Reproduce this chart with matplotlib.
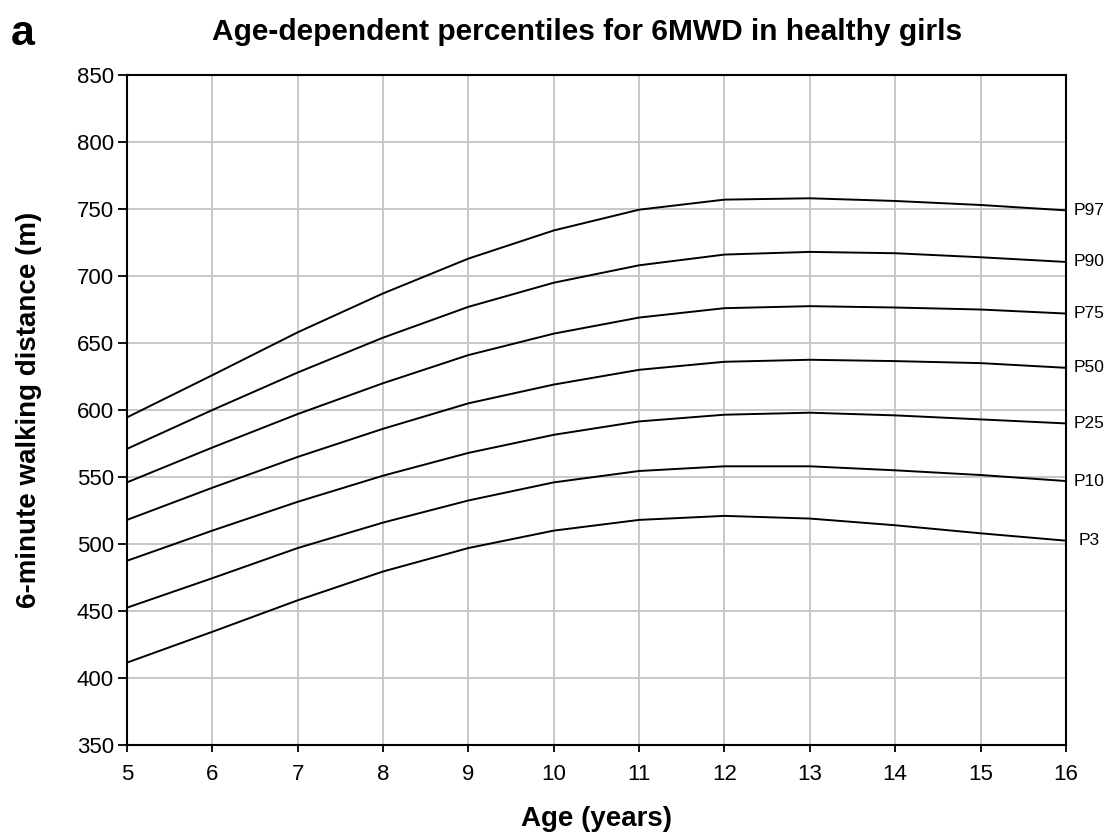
import numpy as np
import matplotlib.pyplot as plt

plt.rcParams['font.family'] = ['Liberation Sans', 'DejaVu Sans']

# age in years
ages = [5, 6, 7, 8, 9, 10, 11, 12, 13, 14, 15, 16]

# 6MWD percentiles (m)
p97 = [594.5, 626, 658, 687, 713, 734, 749.5, 757, 758, 756, 753, 749]
p90 = [571, 600, 628, 654, 677, 695, 708, 716, 718, 717, 714, 710.5]
p75 = [546, 572, 597, 620, 641, 657, 669, 676, 677.5, 676.5, 675, 672]
p50 = [518, 542, 565, 586, 605, 619, 630, 636, 637.5, 636.5, 635, 631.5]
p25 = [487.5, 510, 531.5, 551, 568, 581.5, 591.5, 596.5, 598, 596, 593, 590]
p10 = [452.5, 474.5, 497, 516, 532.5, 546, 554.5, 558, 558, 555, 551.5, 547]
p3 = [411.5, 434.5, 458, 479.5, 497, 510, 518, 521, 519, 514, 508, 502.5]

series = [('P97', p97), ('P90', p90), ('P75', p75), ('P50', p50),
          ('P25', p25), ('P10', p10), ('P3', p3)]

fig = plt.figure(figsize=(11.08, 8.39), dpi=100)
ax = fig.add_axes([0.1146, 0.112, 0.8474, 0.7986])

for name, vals in series:
    ax.plot(ages, vals, color='black', lw=1.4, zorder=3)
    ax.annotate(name, xy=(ages[-1], vals[-1]), xytext=(16.5, 0),
                textcoords='offset points', ha='center', va='center',
                fontsize=12.5, annotation_clip=False)

ax.set_xlim(5, 16)
ax.set_ylim(350, 850)
ax.set_xticks(range(5, 17))
ax.set_yticks(range(350, 851, 50))
ax.grid(True, color='#c8c8c8', lw=1.4, zorder=0)
ax.set_axisbelow(True)
for s in ax.spines.values():
    s.set_linewidth(1.5)
    s.set_color('black')
ax.tick_params(axis='x', direction='out', length=5, width=1.3, labelsize=16, pad=9)
ax.tick_params(axis='y', direction='out', length=6.5, width=1.3, labelsize=16, pad=3)

ax.set_xlabel('Age (years)', fontsize=20, fontweight='bold', labelpad=15)
ax.set_ylabel('6-minute walking distance (m)', fontsize=20, fontweight='bold', labelpad=25)
fig.text(0.530, 0.952, 'Age-dependent percentiles for 6MWD in healthy girls',
         ha='center', va='baseline', fontsize=21.5, fontweight='bold')
fig.text(0.010, 0.946, 'a', ha='left', va='baseline', fontsize=31, fontweight='bold')

fig.savefig('out.png', dpi=100)
